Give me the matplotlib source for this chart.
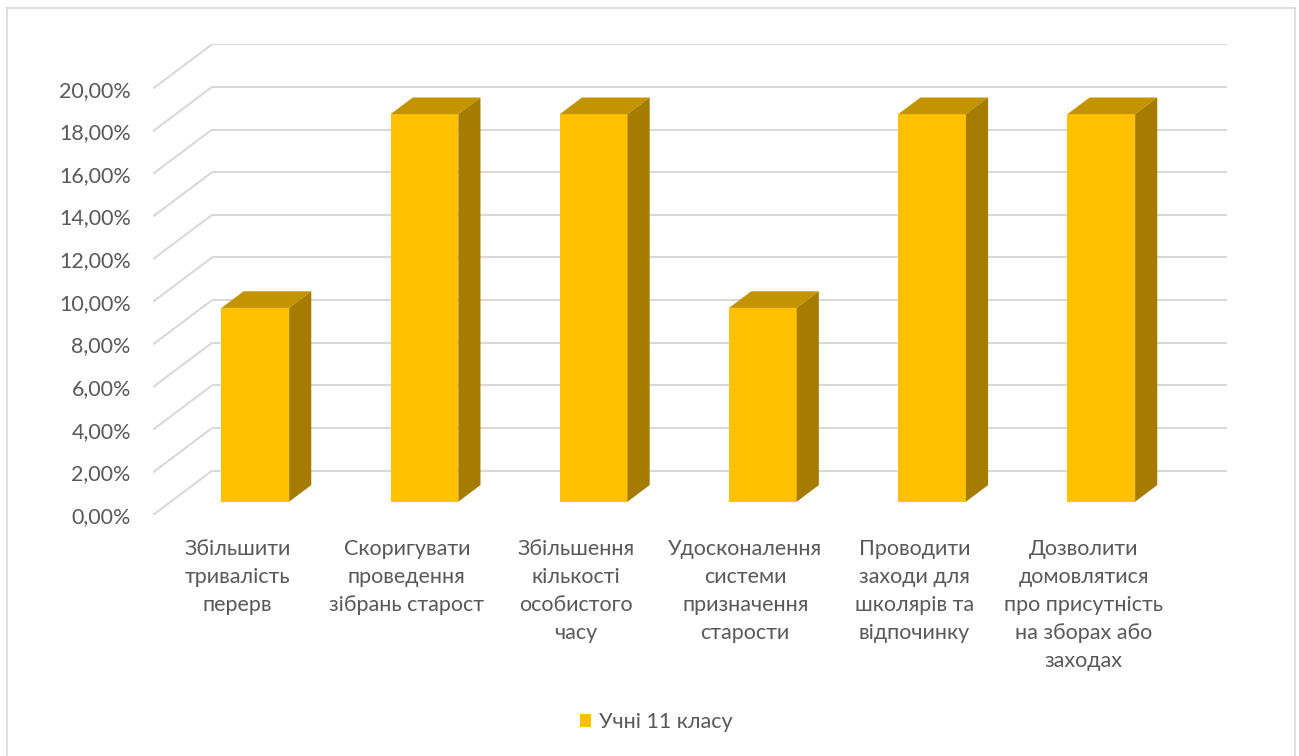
import matplotlib
matplotlib.use("Agg")
import matplotlib.pyplot as plt
from matplotlib.patches import Polygon, Patch
from matplotlib.lines import Line2D

# ---- data ----
categories = [
    "Збільшити\nтривалість\nперерв",
    "Скоригувати\nпроведення\nзібрань старост",
    "Збільшення\nкількості\nособистого\nчасу",
    "Удосконалення\nсистеми\nпризначення\nстарости",
    "Проводити\nзаходи для\nшколярів та\nвідпочинку",
    "Дозволити\nдомовлятися\nпро присутність\nна зборах або\nзаходах",
]
values = [9.09, 18.18, 18.18, 9.09, 18.18, 18.18]  # percent
series_name = "Учні 11 класу"
yticks = [0, 2, 4, 6, 8, 10, 12, 14, 16, 18, 20]
ytick_labels = ["0,00%", "2,00%", "4,00%", "6,00%", "8,00%", "10,00%",
                "12,00%", "14,00%", "16,00%", "18,00%", "20,00%"]

# ---- style ----
FRONT = "#FFC000"
TOP = "#C49400"
SIDE = "#A57C00"
GRID = "#D9D9D9"
TEXT = "#595959"
plt.rcParams["font.family"] = ["Lato", "DejaVu Sans"]

W, H = 1299, 756
fig = plt.figure(figsize=(W / 100, H / 100), dpi=100)

# plot area in pixels (front plane origin at left/bottom, back wall at top/right)
left_px, right_px = 153, 1227
top_px, bottom_px = 44, 515
ax = fig.add_axes([left_px / W, 1 - bottom_px / H,
                   (right_px - left_px) / W, (bottom_px - top_px) / H])

cat_px = 169.2          # pixels per category
val_px = 21.32          # pixels per percent
depth_x = 59 / cat_px   # oblique depth offset, in data units
depth_y = 44.3 / val_px

n = len(categories)
ax.set_xlim(-0.5, -0.5 + (right_px - left_px) / cat_px)
ax.set_ylim(0, (bottom_px - top_px) / val_px)
for s in ax.spines.values():
    s.set_visible(False)

# back wall gridlines and left side-wall diagonals
for v in yticks:
    ax.plot([-0.5 + depth_x, n - 0.5 + depth_x], [v + depth_y, v + depth_y],
            color=GRID, lw=1.5, solid_capstyle="butt", zorder=1)
    ax.plot([-0.5, -0.5 + depth_x], [v, v + depth_y],
            color=GRID, lw=1.5, solid_capstyle="butt", zorder=1)

# 3D-looking columns
bar_w = 0.40
f0 = 0.30    # front face position within the depth
bd = 0.375   # column depth fraction
for i, h in enumerate(values):
    x0 = i - bar_w / 2 + f0 * depth_x
    x1 = x0 + bar_w
    y0 = f0 * depth_y
    y1 = y0 + h
    ox, oy = bd * depth_x, bd * depth_y
    ax.add_patch(Polygon([(x0, y0), (x1, y0), (x1, y1), (x0, y1)],
                         closed=True, facecolor=FRONT, edgecolor="none", zorder=3))
    ax.add_patch(Polygon([(x0, y1), (x1, y1), (x1 + ox, y1 + oy), (x0 + ox, y1 + oy)],
                         closed=True, facecolor=TOP, edgecolor="none", zorder=3))
    ax.add_patch(Polygon([(x1, y0), (x1 + ox, y0 + oy), (x1 + ox, y1 + oy), (x1, y1)],
                         closed=True, facecolor=SIDE, edgecolor="none", zorder=3))

# axis labels
ax.set_yticks(yticks)
ax.set_yticklabels(ytick_labels)
ax.tick_params(axis="y", length=0, pad=16, labelsize=15.5, labelcolor=TEXT)
ax.set_xticks(range(n))
ax.set_xticklabels(categories, linespacing=1.5)
ax.tick_params(axis="x", length=0, pad=17, labelsize=15.5, labelcolor=TEXT)
for t in ax.get_xticklabels():
    t.set_verticalalignment("top")
    t.set_horizontalalignment("center")
    t.set_multialignment("center")

# legend
fig.legend(handles=[Patch(facecolor=FRONT, edgecolor="none")], labels=[series_name],
           loc="center", bbox_to_anchor=(656 / W, 1 - 722 / H), frameon=False,
           fontsize=15.5, labelcolor=TEXT, handlelength=0.55, handleheight=0.55,
           handletextpad=0.35, borderpad=0)

# outer chart border
for xs, ys in [((7, 7), (8, 760)), ((7, 1295), (8, 8)), ((1295, 1295), (8, 760))]:
    fig.add_artist(Line2D([x / W for x in xs], [1 - y / H for y in ys],
                          transform=fig.transFigure, color=GRID, lw=1.2))

fig.savefig("out.png", dpi=100)
